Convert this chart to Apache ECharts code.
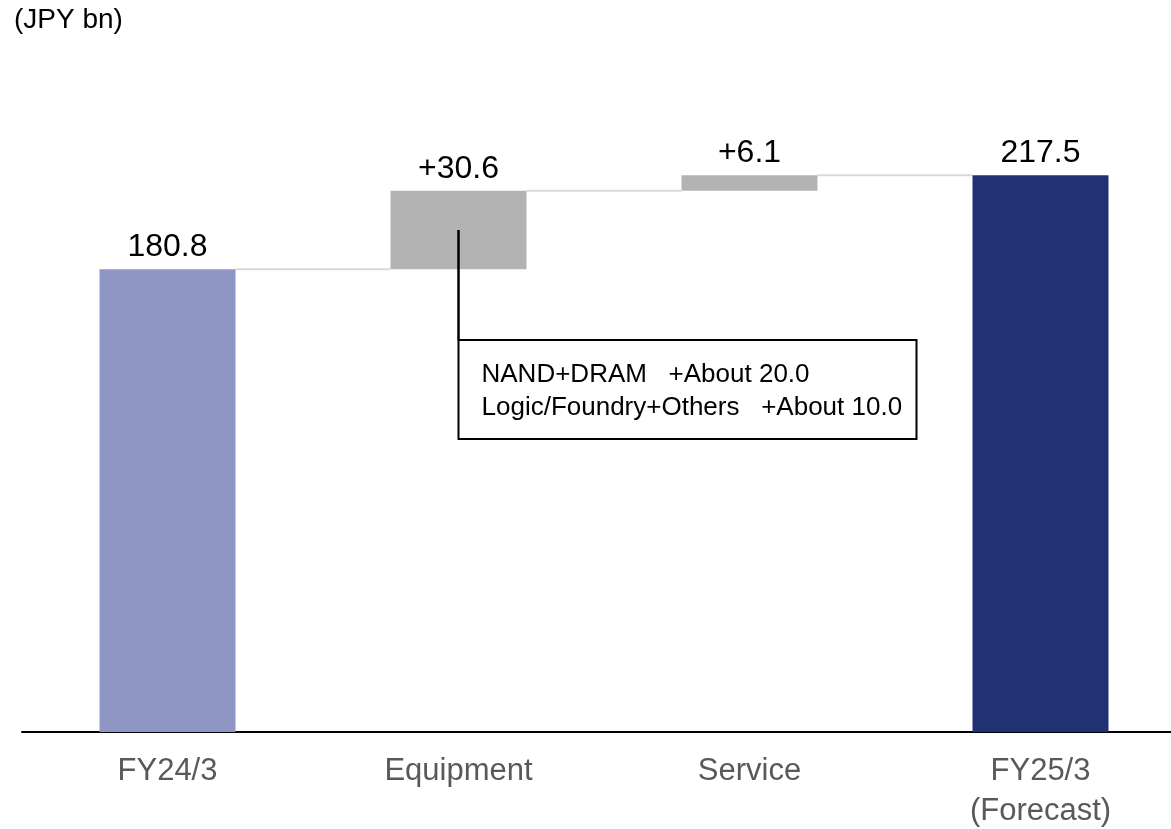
<!DOCTYPE html>
<html>
<head>
<meta charset="utf-8">
<script src="https://cdn.jsdelivr.net/npm/echarts@6/dist/echarts.min.js"></script>
<style>
html,body{margin:0;padding:0;background:#fff;}
#chart{width:1171px;height:829px;}
</style>
</head>
<body>
<div id="chart"></div>
<script>
// ---- data ----
const categories = ['FY24/3', 'Equipment', 'Service', 'FY25/3\n(Forecast)'];
const values = [180.8, 30.6, 6.1, 217.5];
const kinds = ['total', 'delta', 'delta', 'total'];
const valueLabels = ['180.8', '+30.6', '+6.1', '217.5'];
const barColors = ['#8f96c3', '#b3b3b3', '#b3b3b3', '#203274'];
const unitLabel = '(JPY bn)';
const noteIndex = 1;
const noteLines = ['NAND+DRAM   +About 20.0', 'Logic/Foundry+Others   +About 10.0'];

// ---- derived (waterfall bases) ----
const bases = [];
const tops = [];
let running = 0;
values.forEach((v, i) => {
  if (kinds[i] === 'total') { bases.push(0); running = v; }
  else { bases.push(running); running += v; }
  tops.push(running);
});

const FONT = "'Liberation Sans', Arial, sans-serif";
const BAR_W = 136;

const chart = echarts.init(document.getElementById('chart'), null, {renderer: 'canvas'});
chart.setOption({
  animation: false,
  backgroundColor: '#ffffff',
  title: {
    text: unitLabel, left: 9, top: 1,
    textStyle: {fontFamily: FONT, fontSize: 28, fontWeight: 'normal', color: '#000'}
  },
  grid: {left: 22, width: 1164, top: 92, bottom: 97, outerBoundsMode: 'none', containLabel: false},
  xAxis: {
    type: 'category',
    data: categories,
    axisLine: {lineStyle: {color: '#000', width: 2}},
    axisTick: {show: false},
    axisLabel: {fontFamily: FONT, fontSize: 31, color: '#595959', margin: 19, lineHeight: 40}
  },
  yAxis: {
    type: 'value', min: 0, max: 250,
    show: false, splitLine: {show: false}
  },
  series: [
    {
      type: 'bar', stack: 'w', barWidth: BAR_W,
      itemStyle: {color: 'transparent'},
      emphasis: {disabled: true},
      data: bases
    },
    {
      type: 'bar', stack: 'w', barWidth: BAR_W,
      data: values.map((v, i) => ({
        value: v,
        itemStyle: {color: barColors[i]},
        label: {formatter: valueLabels[i]}
      })),
      label: {
        show: true, position: 'top', distance: 6,
        fontFamily: FONT, fontSize: 32, color: '#000'
      }
    },
    {
      type: 'custom',
      silent: true,
      z: 1,
      data: tops.slice(0, tops.length - 1).map((t, i) => [i, t]),
      renderItem: function (params, api) {
        const p = api.coord([api.value(0), api.value(1)]);
        const catW = api.size([1, 0])[0];
        return {
          type: 'line',
          shape: {x1: p[0] + BAR_W / 2, y1: p[1], x2: p[0] + catW - BAR_W / 2, y2: p[1]},
          style: {stroke: '#d9d9d9', lineWidth: 2}
        };
      }
    },
    {
      type: 'custom',
      silent: true,
      z: 5,
      data: [[noteIndex, bases[noteIndex] + values[noteIndex] / 2]],
      renderItem: function (params, api) {
        const p = api.coord([api.value(0), api.value(1)]);
        const boxTop = p[1] + 110;
        const boxW = 458, boxH = 99;
        return {
          type: 'group',
          children: [
            {type: 'line', shape: {x1: p[0], y1: p[1], x2: p[0], y2: boxTop},
             style: {stroke: '#000', lineWidth: 2.5}},
            {type: 'rect', shape: {x: p[0], y: boxTop, width: boxW, height: boxH},
             style: {fill: '#fff', stroke: '#000', lineWidth: 2}},
            {type: 'text', x: p[0] + 23, y: boxTop + boxH / 2 + 2,
             style: {text: noteLines.join('\n'), font: '26px ' + FONT, fill: '#000',
                     verticalAlign: 'middle', align: 'left', lineHeight: 33}}
          ]
        };
      }
    }
  ]
});
</script>
</body>
</html>
